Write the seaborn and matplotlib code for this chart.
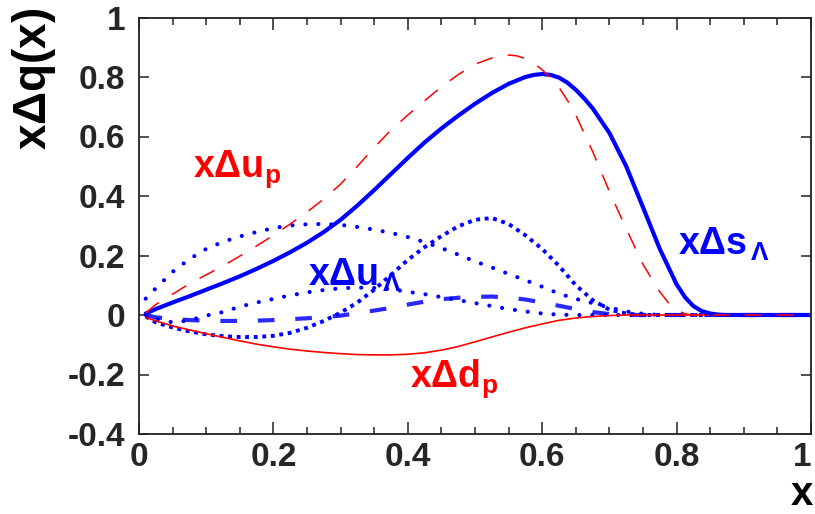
import numpy as np
import pandas as pd
import matplotlib
matplotlib.use("Agg")
import matplotlib.pyplot as plt
import seaborn as sns

# ---------------- data ----------------
x_grid = [0.01, 0.025, 0.05, 0.075, 0.1, 0.125, 0.15, 0.175, 0.2, 0.225,
          0.25, 0.275, 0.3, 0.325, 0.35, 0.375, 0.4, 0.425, 0.45, 0.475,
          0.5, 0.525, 0.55, 0.575, 0.6, 0.625, 0.65, 0.675, 0.7, 0.725,
          0.75, 0.775, 0.8, 0.825, 0.85, 0.875, 0.9, 0.95, 1.0]

# red dashed: x*Delta u_p (own x readings, denser around the peak)
x_up = [0.01, 0.025, 0.05, 0.075, 0.1, 0.125, 0.15, 0.175, 0.2, 0.225,
        0.25, 0.275, 0.3, 0.325, 0.35, 0.375, 0.4, 0.425, 0.45, 0.475,
        0.5, 0.525, 0.5375, 0.55, 0.5625, 0.575, 0.5875, 0.6, 0.6125, 0.625,
        0.6375, 0.65, 0.675, 0.7, 0.725, 0.75, 0.775, 0.7875, 0.8, 0.8125,
        0.825, 0.85, 0.9, 0.95, 1.0]
du_p = [0.007, 0.035, 0.07, 0.105, 0.135, 0.165, 0.198, 0.232, 0.268, 0.306,
        0.346, 0.39, 0.44, 0.50, 0.563, 0.622, 0.672, 0.72, 0.767, 0.808,
        0.843, 0.864, 0.871, 0.874, 0.871, 0.862, 0.846, 0.824, 0.797, 0.765,
        0.722, 0.672, 0.55, 0.415, 0.29, 0.17, 0.078, 0.042, 0.017, 0.004,
        0.0, 0.0, 0.0, 0.0, 0.0]

# blue solid: x*Delta s_Lambda (own x readings, denser around the peak)
x_sL = [0.01, 0.025, 0.05, 0.075, 0.1, 0.125, 0.15, 0.175, 0.2, 0.225,
        0.25, 0.275, 0.3, 0.325, 0.35, 0.375, 0.4, 0.425, 0.45, 0.475,
        0.5, 0.525, 0.55, 0.575, 0.5875, 0.6, 0.6125, 0.625, 0.6375, 0.65,
        0.6625, 0.675, 0.7, 0.725, 0.75, 0.775, 0.8, 0.8125, 0.825, 0.8375,
        0.85, 0.8625, 0.875, 0.9, 0.95, 1.0]
ds_L = [0.005, 0.02, 0.042, 0.063, 0.085, 0.107, 0.13, 0.155, 0.182, 0.211,
        0.243, 0.279, 0.32, 0.368, 0.42, 0.474, 0.528, 0.58, 0.627, 0.67,
        0.71, 0.746, 0.777, 0.8, 0.807, 0.81, 0.807, 0.798, 0.781, 0.757,
        0.728, 0.695, 0.612, 0.5, 0.362, 0.222, 0.103, 0.06, 0.03, 0.013,
        0.005, 0.001, 0.0, 0.0, 0.0, 0.0]

# red solid: x*Delta d_p
dd_p = [-0.008, -0.02, -0.037, -0.05, -0.063, -0.075, -0.087, -0.098, -0.107, -0.115,
        -0.121, -0.126, -0.13, -0.133, -0.134, -0.134, -0.132, -0.127, -0.118, -0.106,
        -0.09, -0.074, -0.058, -0.043, -0.03, -0.018, -0.01, -0.005, -0.002, 0.0,
        0.0, 0.0, 0.0, 0.0, 0.0, 0.0, 0.0, 0.0, 0.0]

# blue round dots (upper)
dot_a = [0.055, 0.09, 0.145, 0.188, 0.222, 0.246, 0.264, 0.279, 0.292, 0.301,
         0.305, 0.306, 0.303, 0.296, 0.287, 0.276, 0.262, 0.245, 0.225, 0.203,
         0.18, 0.16, 0.138, 0.117, 0.095, 0.072, 0.054, 0.04, 0.025, 0.012,
         0.004, 0.0, 0.0, 0.0, 0.0, 0.0, 0.0, 0.0, 0.0]

# blue round dots (lower)
dot_b = [0.0, -0.012, -0.025, -0.018, -0.002, 0.01, 0.028, 0.042, 0.054, 0.066,
         0.076, 0.084, 0.09, 0.092, 0.091, 0.087, 0.078, 0.07, 0.06, 0.05,
         0.04, 0.03, 0.02, 0.012, 0.005, 0.001, 0.0, 0.0, 0.0, 0.0,
         0.0, 0.0, 0.0, 0.0, 0.0, 0.0, 0.0, 0.0, 0.0]

# blue square dots
sq_c = [-0.005, -0.025, -0.042, -0.055, -0.065, -0.071, -0.074, -0.074, -0.07, -0.06,
        -0.043, -0.02, 0.008, 0.042, 0.085, 0.135, 0.185, 0.228, 0.265, 0.298,
        0.32, 0.326, 0.306, 0.268, 0.222, 0.165, 0.1, 0.05, 0.018, 0.005,
        0.0, 0.0, 0.0, 0.0, 0.0, 0.0, 0.0, 0.0, 0.0]

# blue dashed
dash_d = [0.0, -0.008, -0.013, -0.017, -0.019, -0.02, -0.02, -0.019, -0.017, -0.014,
          -0.011, -0.007, -0.002, 0.006, 0.015, 0.024, 0.035, 0.045, 0.053, 0.058,
          0.061, 0.062, 0.059, 0.052, 0.042, 0.031, 0.02, 0.01, 0.003, 0.0,
          0.0, 0.0, 0.0, 0.0, 0.0, 0.0, 0.0, 0.0, 0.0]

x_ticks = [0, 0.2, 0.4, 0.6, 0.8, 1]
x_tick_labels = ["0", "0.2", "0.4", "0.6", "0.8", "1"]
y_ticks = [-0.4, -0.2, 0, 0.2, 0.4, 0.6, 0.8, 1]
y_tick_labels = ["-0.4", "-0.2", "0", "0.2", "0.4", "0.6", "0.8", "1"]

# ---------------- style ----------------
sns.set_style("ticks")
plt.rcParams["font.family"] = ["Liberation Sans", "DejaVu Sans"]
plt.rcParams["font.weight"] = "bold"
plt.rcParams["mathtext.fontset"] = "custom"
plt.rcParams["mathtext.rm"] = "Liberation Sans"
plt.rcParams["mathtext.bf"] = "Liberation Sans:bold"
plt.rcParams["mathtext.it"] = "Liberation Sans:italic"

RED = "#ff0000"
BLUE = "#0000ff"

fig = plt.figure(figsize=(8.15, 5.14), dpi=100)
ax = fig.add_axes([139 / 815, 1 - 434 / 514, 672 / 815, 416.5 / 514])

def draw(xvals, yvals, **kw):
    df = pd.DataFrame({"x": xvals, "y": yvals})
    sns.lineplot(data=df, x="x", y="y", ax=ax, estimator=None, sort=False,
                 errorbar=None, legend=False, **kw)

draw(x_grid, dash_d, color="#2a2aff", linewidth=3.0, linestyle=(0, (4.0, 5.0)))
draw(x_grid, sq_c, color=BLUE, linewidth=2.8, linestyle=(0, (1.0, 1.2)))
draw(x_grid, dot_b, color=BLUE, linewidth=3.0, linestyle=(0, (0.01, 3.1)),
     dash_capstyle="round")
draw(x_grid, dot_a, color=BLUE, linewidth=3.0, linestyle=(0, (0.01, 3.1)),
     dash_capstyle="round")
draw(x_grid, dd_p, color=RED, linewidth=1.2)
draw(x_sL, ds_L, color=BLUE, linewidth=3.0)
draw(x_up, du_p, color=RED, linewidth=1.1, linestyle=(0, (11, 10)))

ax.set_xlim(0, 1)
ax.set_ylim(-0.4, 1)
ax.set_xlabel("")
ax.set_ylabel("")
ax.set_xticks(x_ticks)
ax.set_xticklabels(x_tick_labels)
ax.set_yticks(y_ticks)
ax.set_yticklabels(y_tick_labels)
ax.set_xticks(np.arange(0, 1.0001, 0.05), minor=True)
for s in ax.spines.values():
    s.set_linewidth(1.3)
    s.set_color("#222222")
    s.set_visible(True)
ax.tick_params(axis="both", which="both", direction="in", top=True, right=True,
               width=1.1, color="#222222", labelsize=24)
ax.tick_params(axis="x", which="major", length=8.5, pad=6)
ax.tick_params(axis="x", which="minor", length=5)
ax.tick_params(axis="y", which="major", length=7.2, pad=10)
ax.tick_params(axis="y", which="minor", length=0)
for lab in ax.get_xticklabels() + ax.get_yticklabels():
    lab.set_fontweight("bold")
ax.get_xticklabels()[-1].set_horizontalalignment("right")

# curve labels
ax.text(0.0804, 0.464, r"$\mathbf{x}\Delta\mathbf{u}_{\mathbf{p}}$", color=RED,
        fontsize=27, ha="left", va="baseline")
ax.text(0.403, -0.242, r"$\mathbf{x}\Delta\mathbf{d}_{\mathbf{p}}$", color=RED,
        fontsize=27, ha="left", va="baseline")
ax.text(0.802, 0.2017, r"$\mathbf{x}\Delta\mathbf{s}_{\,\Lambda}$", color=BLUE,
        fontsize=27, ha="left", va="baseline")
ax.text(0.2515, 0.0975, r"$\mathbf{x}\Delta\mathbf{u}_{\,\Lambda}$", color=BLUE,
        fontsize=27, ha="left", va="baseline")

# axis titles
fig.text(34 / 815, 1 - 8 / 514, r"$\mathbf{x}\Delta\mathbf{q(x)}$", rotation=90,
         ha="center", va="top", fontsize=33, color="black")
fig.text(813 / 815, 1 / 514, "x", ha="right", va="bottom", fontsize=29,
         fontweight="bold", color="black")

fig.savefig("out.png", dpi=100)
